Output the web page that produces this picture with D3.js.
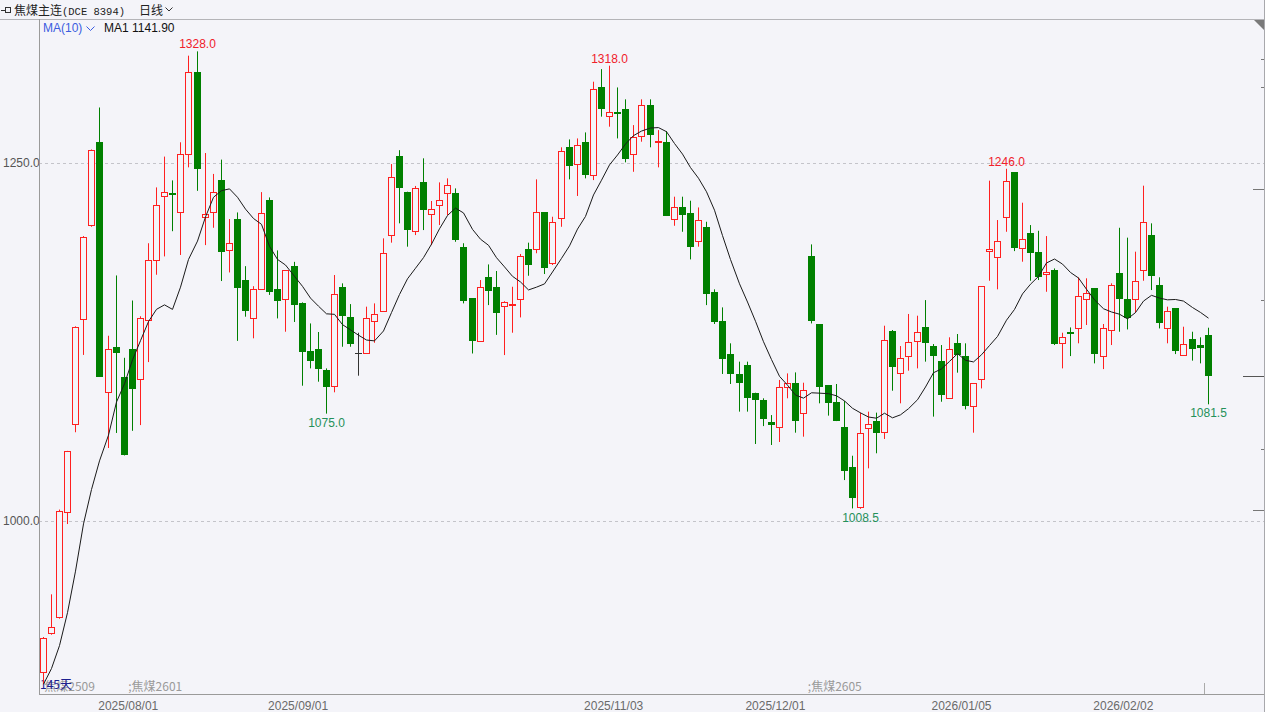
<!DOCTYPE html>
<html><head><meta charset="utf-8">
<script src="https://cdn.jsdelivr.net/npm/d3@7"></script>
<style>html,body{margin:0;padding:0;background:#f4f4f9;overflow:hidden}</style>
</head><body><svg id="c" width="1265" height="712"></svg>
<script>
// ---- data ----
const openP = [894.6,921.5,932.7,1006.4,1067.6,1140.9,1206.4,1264.5,1090.3,1121.2,
1100.9,1120,1099.4,1140.3,1182,1226.7,1229,1215.5,1256,1313.6,
1212.4,1215.5,1238,1189.4,1210.6,1168.2,1141.8,1162,1224.2,1162,
1154.8,1178,1152,1119,1119.9,1105.4,1094.5,1163.2,1142.7,1117,
1117,1139.9,1146.9,1199.7,1254.9,1230,1202.7,1236.5,1214.2,1220.7,
1229.3,1229.3,1191.1,1155.5,1125.7,1170.2,1163.2,1150.1,1150.8,1154.8,
1190.2,1189.7,1215.5,1180,1211.4,1261,1249.3,1264.9,1241.6,1302.8,
1282.8,1285.8,1287.9,1256,1268.8,1290.3,1264.9,1264.9,1210.7,1219,
1215.3,1195.8,1205.5,1159.9,1139.9,1116.4,1102.7,1108.9,1089.6,1084.5,
1068.9,1065.9,1093.3,1096.6,1075.2,1185.3,1137.3,1095,1082.9,1065.4,
1037.5,1009.5,1064.7,1069.8,1061.9,1132.7,1103.1,1115.5,1126,1135.2,
1122.2,1111.7,1085.7,1124.1,1115.2,1080.2,1098.9,1188.8,1184.6,1212.5,
1243.7,1190.4,1200.9,1188.1,1172.3,1175.3,1124.5,1132,1134.5,1155,
1162.5,1115.5,1133.4,1173,1155,1155,1175.3,1199.7,1164.8,1135,
1148.5,1115.9,1126.9,1122.9,1129.9];
const highP = [919,948.8,1008,1049,1136,1199,1259.5,1288.8,1129.4,1171.5,
1114,1154,1143,1194,1233,1254.5,1237.9,1264.5,1325,1328,
1257,1242.4,1252.4,1210.9,1215.5,1178,1164,1229.7,1226,1189,
1175.3,1181,1152.7,1138,1132,1106.6,1171.8,1166,1151.5,1131.5,
1149.7,1152,1197.4,1249.3,1259,1230,1234,1253.3,1223.5,1236.5,
1239.3,1232.3,1194,1155.5,1168.3,1179.2,1174.6,1153.5,1163.6,1186.5,
1194.4,1238.6,1215.5,1212.5,1261,1266.5,1267.2,1271.4,1306.8,1315.6,
1318,1302.8,1294.5,1276.5,1294.5,1294.5,1273,1272.3,1226.5,1226.5,
1223.7,1219,1209,1161.8,1149.2,1124.1,1111.3,1111.3,1089.6,1085.7,
1074,1098.5,1103.1,1103.8,1096.6,1193.2,1137.3,1095,1095.7,1083.8,
1045.6,1075.7,1076.4,1075.7,1136.4,1133.4,1122.2,1144.6,1143.4,1154.3,
1123.6,1122.9,1128.3,1130.6,1124.1,1096.1,1164.1,1237.7,1210.2,1246,
1243.7,1222.3,1206.7,1202.7,1199,1176.4,1131.5,1135.2,1170.2,1169.5,
1162.5,1137.6,1166,1204.8,1197.9,1188.1,1234.2,1207.9,1170.2,1149.7,
1148.5,1135.7,1132.2,1128.3,1135];
const lowP = [886,920.6,931.8,997.9,1062,1116,1205.5,1100.9,1051,1061.5,
1045.8,1063,1067,1111,1172,1184.8,1202.4,1185.8,1247,1230.6,
1192.7,1204.8,1167.6,1173.6,1125.8,1142.7,1127.6,1161.5,1157.9,1141.5,
1132.2,1139,1094.5,1106.6,1097.3,1075,1089.9,1121.7,1121.7,1101.5,
1117,1124.5,1146.9,1194.4,1207.9,1191.6,1199.7,1203.2,1192.7,1206.7,
1213.7,1195,1152,1117,1125.7,1150.8,1130,1115.9,1131.5,1142.2,
1171.3,1187,1172.5,1178.8,1205.5,1238.6,1227,1239.3,1238.1,1282.4,
1275.4,1267.2,1250.5,1243.9,1264.9,1261,1247,1213,1206.2,1202,
1182.7,1191.6,1150.8,1137.6,1102.7,1095.7,1076.4,1076.4,1053.8,1066.3,
1053.1,1055.2,1085.7,1061.7,1058.9,1138,1082.2,1073.6,1069.8,1028.6,
1008.8,1008.5,1036.8,1047.3,1057.3,1091,1082.2,1105,1106.6,1111.3,
1072.9,1083.3,1085.7,1103.6,1078,1061.7,1092.6,1167.8,1161.8,1202,
1188.5,1181.1,1167.8,1168.3,1160.1,1122.9,1106.6,1115.2,1124.1,1136.9,
1110.1,1106.1,1122.9,1132.2,1133.8,1145.5,1167.8,1161.3,1134.5,1124.1,
1116.6,1115.9,1112,1110.1,1081.5];
const closeP = [918.5,925.8,1007,1048.8,1135.5,1198.5,1259,1100.9,1120,1117.3,
1045.8,1092.4,1141.5,1182,1221,1229.7,1227.5,1256,1313.6,1245.5,
1214.5,1229.7,1187.9,1194.2,1162.4,1147,1162,1215.2,1160.2,1153.9,
1175.3,1150.6,1118.2,1112,1105.9,1093.8,1158.5,1143.2,1123.4,1117,
1141.5,1144.6,1187.4,1240.5,1232.3,1203.2,1232.3,1217.2,1217.6,1224.2,
1234.6,1196.2,1153.6,1125.7,1163.6,1160.8,1145.5,1153.2,1151.5,1185,
1178.8,1215.5,1176.4,1209,1258.6,1248.1,1262.8,1241.6,1301.4,1287.9,
1285.8,1284.7,1252.8,1267.9,1290.3,1269.6,1265.6,1213,1219,1213.9,
1191.6,1210.2,1158.3,1139.2,1113.1,1102.4,1096.1,1085.7,1084.5,1071,
1067,1093.3,1096.6,1070.1,1091.5,1139.9,1093.3,1082.2,1069.8,1034.9,
1015.8,1061.2,1067.7,1061.7,1126.4,1107.8,1114.1,1125.2,1132,1124.1,
1115.5,1088,1119.9,1115.9,1080.3,1096.1,1164.1,1189.7,1195.5,1237.7,
1190.4,1196.7,1187.4,1170.6,1174.1,1123.6,1128.7,1131.1,1157.1,1159,
1116.4,1134.5,1164.8,1155,1141.5,1167.6,1209,1171.3,1138,1146.6,
1118.9,1123.4,1119.9,1120.6,1101.5];
// MA(10) values before 10 closes are available
const maWarmup = [886,897,913,936,965,998,1022,1042,1060];
const maLegendValue = "1141.90";
const gridValues = [1000, 1250];
const tickIndex = [11, 32, 71, 91, 114, 134];
const tickLabels = ["2025/08/01","2025/09/01","2025/11/03","2025/12/01","2026/01/05","2026/02/02"];
const rollIndex = [0, 11, 95];
const rollLabels = ["焦煤2509", ";焦煤2601", ";焦煤2605"];
const highMarks = [19, 70, 119];
const lowMarks = [35, 101, 144];
const rightMarkValues = [1322.6, 1303, 1231.8, 1154.3, 1050.3, 1007.7];

// ---- drawing ----
const W = 1265, H = 712;
const L = 39, R = 1264, T = 19, B = 694;
const BG = "#f4f4f9", UP = "#ff2020", DOWN = "#008000";
const n = closeP.length;
const svg = d3.select("#c");
svg.append("rect").attr("width", W).attr("height", H).attr("fill", BG);

const x = d3.scaleBand().domain(d3.range(n)).range([39.25, 39.25 + n * 8.09]).padding(0);
const y = d3.scaleLinear().domain([879.2, 1350.6]).range([B, T]);
const cx = i => Math.floor(x(i) + x.step() / 2) + 0.5;
const snap = v => Math.round(v) + 0.5;

// grid lines
svg.append("g").selectAll("line").data(gridValues).join("line")
  .attr("x1", L).attr("x2", R)
  .attr("y1", d => snap(y(d))).attr("y2", d => snap(y(d)))
  .attr("stroke", "#c4c4ca").attr("stroke-dasharray", "3,3");

// left axis labels
const ya = svg.append("g").attr("transform", `translate(${L},0)`)
  .call(d3.axisLeft(y).tickValues(gridValues).tickSize(0).tickFormat(d3.format(".1f")));
ya.select(".domain").remove();
ya.selectAll("text").attr("x", -36).attr("text-anchor", "start")
  .attr("font-family", "Liberation Sans, Arial, sans-serif").attr("font-size", 12).attr("fill", "#555");

// bottom axis labels (positioned at slot start)
const xa = svg.append("g").attr("transform", `translate(${-x.step() / 2},${B})`)
  .call(d3.axisBottom(x).tickValues(tickIndex).tickSize(0)
    .tickFormat(i => tickLabels[tickIndex.indexOf(i)]));
xa.select(".domain").remove();
xa.selectAll("text").attr("y", 7)
  .attr("font-family", "Liberation Sans, Arial, sans-serif").attr("font-size", 12).attr("fill", "#6a6a6a");

// contract roll labels
svg.append("g").selectAll("text").data(rollIndex).join("text")
  .attr("x", (d, k) => k === 0 ? x(d) + 5 : x(d))
  .attr("y", 691)
  .attr("font-family", "Noto Sans CJK SC, sans-serif").attr("font-size", 12).attr("fill", "#9a9a9a")
  .text((d, k) => rollLabels[k]);
svg.append("text").attr("x", 40).attr("y", 689)
  .attr("font-family", "Noto Sans CJK SC, sans-serif").attr("font-size", 12).attr("fill", "#1c2090")
  .text("145天");

// wicks
const g = svg.append("g");
g.selectAll("line.wick").data(d3.range(n)).join("line").attr("class", "wick")
  .attr("x1", cx).attr("x2", cx)
  .attr("y1", i => y(highP[i])).attr("y2", i => y(lowP[i]))
  .attr("stroke", i => closeP[i] > openP[i] ? UP : (closeP[i] < openP[i] ? DOWN : "#333"))
  .attr("stroke-width", 1);

// bodies
g.selectAll("rect.body").data(d3.range(n)).join("rect").attr("class", "body")
  .each(function (i) {
    const o = openP[i], c = closeP[i];
    const sel = d3.select(this);
    const xc = cx(i);
    if (c > o) {
      const y1 = snap(y(c)), y2 = snap(y(o));
      sel.attr("x", xc - 3).attr("width", 6)
        .attr("y", y1).attr("height", Math.max(1, y2 - y1))
        .attr("fill", BG).attr("stroke", UP).attr("stroke-width", 1);
    } else if (c < o) {
      const y1 = Math.round(y(o)), y2 = Math.round(y(c));
      sel.attr("x", xc - 3.5).attr("width", 7)
        .attr("y", y1).attr("height", Math.max(2, y2 - y1))
        .attr("fill", DOWN);
    } else {
      sel.attr("x", xc - 3.5).attr("width", 7)
        .attr("y", Math.round(y(o))).attr("height", 1).attr("fill", "#333");
    }
  });

// MA(10)
const ma = closeP.map((c, i) => i < 9 ? maWarmup[i] : d3.mean(closeP.slice(i - 9, i + 1)));
svg.append("path").datum(ma)
  .attr("d", d3.line().x((d, i) => cx(i)).y(d => y(d)))
  .attr("fill", "none").attr("stroke", "#1a1a1a").attr("stroke-width", 1);

// high / low annotations
svg.append("g").selectAll("text").data(highMarks).join("text")
  .attr("x", cx).attr("y", i => y(highP[i]) - 3).attr("text-anchor", "middle")
  .attr("font-family", "Liberation Sans, Arial, sans-serif").attr("font-size", 12).attr("fill", "#f0202a")
  .text(i => highP[i].toFixed(1));
svg.append("g").selectAll("text").data(lowMarks).join("text")
  .attr("x", cx).attr("y", i => y(lowP[i]) + 13).attr("text-anchor", "middle")
  .attr("font-family", "Liberation Sans, Arial, sans-serif").attr("font-size", 12).attr("fill", "#24905a")
  .text(i => lowP[i].toFixed(1));

// frame
const frame = svg.append("g").attr("stroke", "#9a9a9a").attr("stroke-width", 1);
frame.append("line").attr("x1", 0).attr("x2", W).attr("y1", T + 0.5).attr("y2", T + 0.5).attr("stroke", "#b4b4b8");
frame.append("line").attr("x1", L + 0.5).attr("x2", L + 0.5).attr("y1", T).attr("y2", B);
frame.append("line").attr("x1", R + 0.5).attr("x2", R + 0.5).attr("y1", 0).attr("y2", H).attr("stroke", "#a8a8ac");
frame.append("line").attr("x1", L).attr("x2", R).attr("y1", B + 0.5).attr("y2", B + 0.5);
svg.append("path").attr("d", `M1254,${T + 1}L${R},${T + 1}L${R},${T + 11}Z`).attr("fill", "#7a7a7a");
// right side marks
svg.append("g").selectAll("line").data(rightMarkValues).join("line")
  .attr("x1", (d, k) => (k === 2 || k === 5) ? 1253 : 1261).attr("x2", R)
  .attr("y1", d => snap(y(d))).attr("y2", d => snap(y(d)))
  .attr("stroke", "#777");
svg.append("line").attr("x1", 1243).attr("x2", R)
  .attr("y1", snap(y(closeP[n - 1]))).attr("y2", snap(y(closeP[n - 1])))
  .attr("stroke", "#555");
svg.append("line").attr("x1", Math.round(x(n - 1)) + 0.5).attr("x2", Math.round(x(n - 1)) + 0.5)
  .attr("y1", 683).attr("y2", B).attr("stroke", "#aaa");

// header
svg.append("rect").attr("x", 5.5).attr("y", 7.5).attr("width", 5).attr("height", 5).attr("fill", "none").attr("stroke", "#333");
svg.append("line").attr("x1", 1).attr("x2", 5).attr("y1", 10.5).attr("y2", 10.5).attr("stroke", "#333");
const hdr = svg.append("text").attr("x", 14).attr("y", 14.5)
  .attr("font-family", "Noto Sans CJK SC, sans-serif").attr("font-size", 12).attr("fill", "#222");
hdr.append("tspan").text("焦煤主连");
hdr.append("tspan").attr("font-family", "Liberation Mono, monospace").attr("font-size", 10.5).text("(DCE 8394)");
svg.append("text").attr("x", 139).attr("y", 14.5)
  .attr("font-family", "Noto Sans CJK SC, sans-serif").attr("font-size", 12).attr("fill", "#222").text("日线");
svg.append("path").attr("d", "M165.5,7.5L169,11L172.5,7.5").attr("fill", "none").attr("stroke", "#333");

svg.append("text").attr("x", 43).attr("y", 31.5)
  .attr("font-family", "Liberation Sans, Arial, sans-serif").attr("font-size", 12).attr("fill", "#3b5ce0").text("MA(10)");
svg.append("path").attr("d", "M86.5,26.5L90.5,30.5L94.5,26.5").attr("fill", "none").attr("stroke", "#3b5ce0");
svg.append("text").attr("x", 104).attr("y", 31.5)
  .attr("font-family", "Liberation Sans, Arial, sans-serif").attr("font-size", 12).attr("fill", "#111")
  .text("MA1 " + maLegendValue);
</script>
</body></html>
